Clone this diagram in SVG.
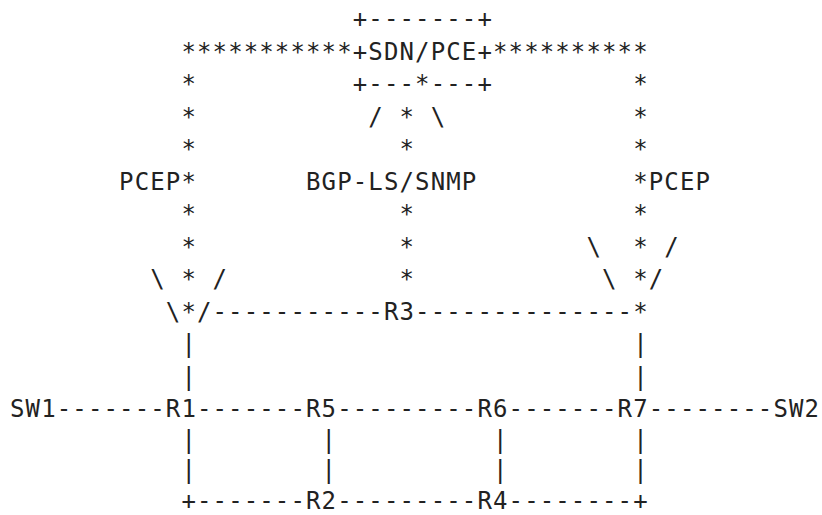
<svg xmlns="http://www.w3.org/2000/svg" width="822" height="515" viewBox="0 0 822 515">
<style>
text { font-family: "DejaVu Sans Mono", "Liberation Mono", monospace; font-size: 24px; letter-spacing: 1.13px; fill: #222; white-space: pre; }
</style>
<rect width="822" height="515" fill="#fff"/>
<g id="connectors">
<text x="181.4" y="59.5">***********</text>
<text x="492.98" y="59.5">**********</text>
<text x="181.4" y="92">*</text><text x="633.2" y="92">*</text>
<text x="181.4" y="124.5">*</text><text x="368.34" y="124.5">/ * \</text><text x="633.2" y="124.5">*</text>
<text x="181.4" y="157">*</text><text x="399.5" y="157">*</text><text x="633.2" y="157">*</text>
<text x="181.4" y="189.5">*</text><text x="633.2" y="189.5">*</text>
<text x="181.4" y="222">*</text><text x="399.5" y="222">*</text><text x="633.2" y="222">*</text>
<text x="181.4" y="254.5">*</text><text x="399.5" y="254.5">*</text><text x="586.46" y="254.5">\  * /</text>
<text x="150.22" y="287">\ * /</text><text x="399.5" y="287">*</text><text x="602.04" y="287">\ */</text>
<text x="165.8" y="319.5">\*/-----------</text><text x="415.08" y="319.5">--------------*</text>
<text x="181.4" y="352">|</text><text x="633.2" y="352">|</text>
<text x="181.4" y="384.5">|</text><text x="633.2" y="384.5">|</text>
<text x="56.74" y="417">-------</text><text x="196.96" y="417">-------</text><text x="337.18" y="417">---------</text><text x="508.56" y="417">-------</text><text x="648.78" y="417">--------</text>
<text x="181.4" y="447.5">|</text><text x="321.6" y="447.5">|</text><text x="493" y="447.5">|</text><text x="633.2" y="447.5">|</text>
<text x="181.4" y="478">|</text><text x="321.6" y="478">|</text><text x="493" y="478">|</text><text x="633.2" y="478">|</text>
<text x="181.4" y="508.5">+-------</text><text x="337.18" y="508.5">---------</text><text x="508.56" y="508.5">--------+</text>
</g>
<g id="sdn-pce">
<text x="352.76" y="27">+-------+</text>
<text x="352.76" y="59.5">+SDN/PCE+</text>
<text x="352.76" y="92">+---*---+</text>
</g>
<g id="label-pcep-left"><text x="119.06" y="189.5">PCEP</text></g>
<g id="label-bgp"><text x="306.02" y="189.5">BGP-LS/SNMP</text></g>
<g id="label-pcep-right"><text x="648.78" y="189.5">PCEP</text></g>
<g id="R3"><text x="383.92" y="319.5">R3</text></g>
<g id="SW1"><text x="10" y="417">SW1</text></g>
<g id="R1"><text x="165.8" y="417">R1</text></g>
<g id="R5"><text x="306.02" y="417">R5</text></g>
<g id="R6"><text x="477.4" y="417">R6</text></g>
<g id="R7"><text x="617.62" y="417">R7</text></g>
<g id="SW2"><text x="773.42" y="417">SW2</text></g>
<g id="R2"><text x="306.02" y="508.5">R2</text></g>
<g id="R4"><text x="477.4" y="508.5">R4</text></g>
</svg>
